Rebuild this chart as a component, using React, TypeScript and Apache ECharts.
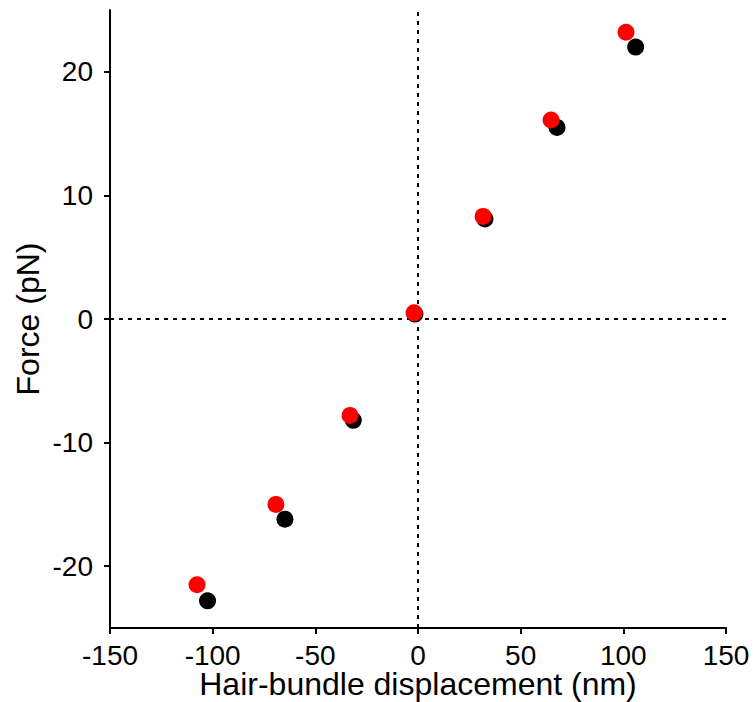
import React, { useEffect, useRef } from "react";
import * as echarts from "echarts";

const blackX = [-102.5, -64.8, -31.5, -1.5, 32.6, 67.7, 106];
const blackY = [-22.8, -16.2, -8.2, 0.4, 8.1, 15.5, 22.0];
const redX = [-107.6, -69.2, -33.1, -1.9, 31.7, 64.8, 101.3];
const redY = [-21.5, -15.0, -7.8, 0.5, 8.3, 16.1, 23.2];
const yTicks = [-20, -10, 0, 10, 20];

const font = "Liberation Sans, Arial, Helvetica, sans-serif";

export default function App() {
  const ref = useRef<HTMLDivElement>(null);
  useEffect(() => {
    if (!ref.current) return;
    const chart = echarts.init(ref.current, null, { renderer: "svg" });
    const axisCommon = {
      axisLine: { show: true, onZero: false, lineStyle: { color: "#000", width: 2 } },
      splitLine: { show: false },
      nameLocation: "middle" as const,
      nameMoveOverlap: false,
    };
    chart.setOption({
      animation: false,
      backgroundColor: "#fff",
      grid: { left: 110, right: 30, top: 10, bottom: 74, containLabel: false, outerBoundsMode: "none" },
      xAxis: {
        ...axisCommon,
        type: "value",
        min: -150,
        max: 150,
        interval: 50,
        name: "Hair-bundle displacement (nm)",
        nameGap: 43,
        nameTextStyle: { color: "#000", fontSize: 32, fontFamily: font, lineHeight: 26 },
        axisTick: { show: true, inside: false, length: 6, lineStyle: { color: "#000", width: 2 } },
        axisLabel: { color: "#000", fontSize: 28, fontFamily: font, margin: 16, lineHeight: 22 },
      },
      yAxis: {
        ...axisCommon,
        type: "value",
        min: -25,
        max: 25,
        name: "Force (pN)",
        nameGap: 66,
        nameTextStyle: { color: "#000", fontSize: 32, fontFamily: font },
        axisTick: {
          show: true,
          inside: false,
          length: 6,
          customValues: yTicks,
          lineStyle: { color: "#000", width: 2 },
        },
        axisLabel: {
          color: "#000",
          fontSize: 28,
          fontFamily: font,
          margin: 17,
          customValues: yTicks,
        },
      },
      series: [
        {
          type: "line",
          data: [[-150, 0], [150, 0]],
          symbol: "none",
          lineStyle: { color: "#000", width: 2, type: [4, 5] },
          silent: true,
          z: 1,
        },
        {
          type: "line",
          data: [[0, -25], [0, 25]],
          symbol: "none",
          lineStyle: { color: "#000", width: 2, type: [4, 5] },
          silent: true,
          z: 1,
        },
        {
          type: "scatter",
          data: blackX.map((x, i) => [x, blackY[i]]),
          symbolSize: 17,
          itemStyle: { color: "#000", opacity: 1 },
          z: 2,
        },
        {
          type: "scatter",
          data: redX.map((x, i) => [x, redY[i]]),
          symbolSize: 17,
          itemStyle: { color: "#ff0000", opacity: 1 },
          z: 3,
        },
      ],
    });
    return () => chart.dispose();
  }, []);
  return <div ref={ref} style={{ width: 756, height: 702, position: "absolute", left: 0, top: 0 }} />;
}
